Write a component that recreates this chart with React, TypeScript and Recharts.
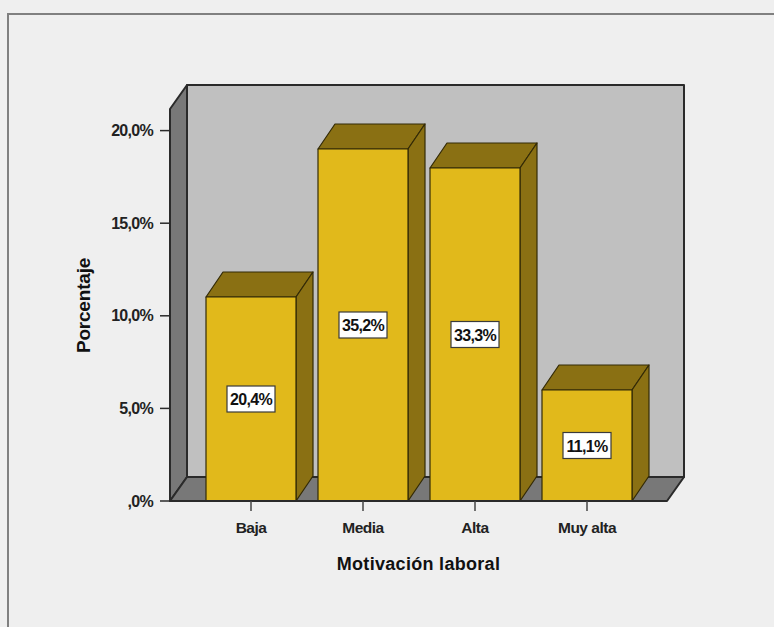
import React from "react";
import { BarChart, Bar, XAxis, YAxis, ReferenceArea, LabelList, Label } from "recharts";

// Share of respondents per motivation level
const categories = ["Baja", "Media", "Alta", "Muy alta"];
const percentages = [20.4, 35.2, 33.3, 11.1];

// The value axis is printed on a rescaled percentage, so the printed labels sit at these positions
const tickPositions = [0, 9.26, 18.52, 27.78, 37.04];
const tickLabels = [",0%", "5,0%", "10,0%", "15,0%", "20,0%"];
const axisMax = 39.2;

const DEPTH_X = 17;
const DEPTH_Y = 24;
const PAD_LEFT = 25;
const PAD_RIGHT = 24;
const EDGE = "#2a2a2a";
const FONT = "'Liberation Sans', Arial, sans-serif";

const rows = categories.map((name, i) => ({ name, value: percentages[i] }));

// Side wall, back wall and floor of the 3D frame; the area handed in stops at the axis padding
const Walls = ({ x: innerX, y, width: innerWidth, height }: any) => {
  const x = innerX - PAD_LEFT;
  const width = innerWidth + PAD_LEFT + PAD_RIGHT;
  const bottom = y + height;
  const right = x + width;
  return (
    <g stroke={EDGE} strokeWidth={2} strokeLinejoin="round">
      <rect x={x + DEPTH_X} y={y - DEPTH_Y} width={width} height={height} fill="#c0c0c0" />
      <polygon
        points={`${x},${y} ${x + DEPTH_X},${y - DEPTH_Y} ${x + DEPTH_X},${bottom - DEPTH_Y} ${x},${bottom}`}
        fill="#787878"
      />
      <polygon
        points={`${x},${bottom} ${x + DEPTH_X},${bottom - DEPTH_Y} ${right + DEPTH_X},${bottom - DEPTH_Y} ${right},${bottom}`}
        fill="#787878"
      />
    </g>
  );
};

// Extruded bar: front face, top face and right face
const Bar3D = ({ x, y, width, height }: any) => {
  const r = x + width;
  const b = y + height;
  return (
    <g stroke="#332a06" strokeWidth={1.2} strokeLinejoin="round">
      <polygon
        points={`${x},${y} ${x + DEPTH_X},${y - DEPTH_Y - 1} ${r + DEPTH_X},${y - DEPTH_Y - 1} ${r},${y}`}
        fill="#8a7013"
      />
      <polygon
        points={`${r},${y} ${r + DEPTH_X},${y - DEPTH_Y - 1} ${r + DEPTH_X},${b - DEPTH_Y - 1} ${r},${b}`}
        fill="#8a7013"
      />
      <rect x={x} y={y} width={width} height={height} fill="#e1b91b" />
    </g>
  );
};

// White boxed percentage in the middle of the front face
const ValueBox = ({ x, y, width, height, value }: any) => {
  const cx = x + width / 2;
  const cy = y + height / 2;
  const text = `${String(value).replace(".", ",")}%`;
  return (
    <g>
      <rect x={cx - 24} y={cy - 13} width={48} height={26} fill="#ffffff" stroke="#3a3a3a" strokeWidth={1.2} />
      <text
        x={cx}
        y={cy + 0.5}
        textAnchor="middle"
        dominantBaseline="central"
        fontFamily={FONT}
        fontWeight="bold"
        fontSize={16}
        letterSpacing={-0.7}
        fill="#111"
      >
        {text}
      </text>
    </g>
  );
};

export default function App() {
  return (
    <div style={{ position: "absolute", left: 0, top: 0, width: 774, height: 627, background: "#efefef", overflow: "hidden" }}>
      <div
        style={{
          position: "absolute",
          left: 7,
          top: 13,
          width: 780,
          height: 640,
          borderLeft: "2px solid #808080",
          borderTop: "2px solid #808080",
        }}
      />
      <BarChart
        width={774}
        height={627}
        data={rows}
        margin={{ top: 109, left: 110, right: 107, bottom: 66 }}
        style={{ position: "absolute", left: 0, top: 0 }}
      >
        <ReferenceArea y1={0} y2={axisMax} shape={<Walls />} ifOverflow="visible" />
        <XAxis
          dataKey="name"
          height={60}
          padding={{ left: PAD_LEFT, right: PAD_RIGHT }}
          interval={0}
          tick={{ fontFamily: FONT, fontWeight: "bold", fontSize: 15.5, fill: "#222", letterSpacing: -0.5 }}
          tickSize={10}
          tickMargin={11}
          tickLine={{ stroke: "#444", strokeWidth: 1.5 }}
          axisLine={{ stroke: EDGE, strokeWidth: 2 }}
        >
          <Label
            value="Motivación laboral"
            position="insideBottom"
            offset={-9}
            style={{ fontFamily: FONT, fontWeight: "bold", fontSize: 18, fill: "#111", letterSpacing: 0.3 }}
          />
        </XAxis>
        <YAxis
          width={60}
          domain={[0, axisMax]}
          ticks={tickPositions}
          tickFormatter={(v: number) => tickLabels[tickPositions.indexOf(v)]}
          tick={{ fontFamily: FONT, fontWeight: "bold", fontSize: 16, fill: "#222", letterSpacing: -0.7 }}
          tickSize={10}
          tickMargin={7}
          tickLine={{ stroke: EDGE, strokeWidth: 1.5 }}
          axisLine={{ stroke: EDGE, strokeWidth: 2 }}
          allowDataOverflow
        />
        <Bar dataKey="value" barSize={90} shape={<Bar3D />} isAnimationActive={false}>
          <LabelList dataKey="value" content={<ValueBox />} />
        </Bar>
        <text
          x={90}
          y={305.5}
          transform="rotate(-90 90 305.5)"
          textAnchor="middle"
          fontFamily={FONT}
          fontWeight="bold"
          fontSize={19}
          letterSpacing={-0.2}
          fill="#111"
        >
          Porcentaje
        </text>
      </BarChart>
    </div>
  );
}
